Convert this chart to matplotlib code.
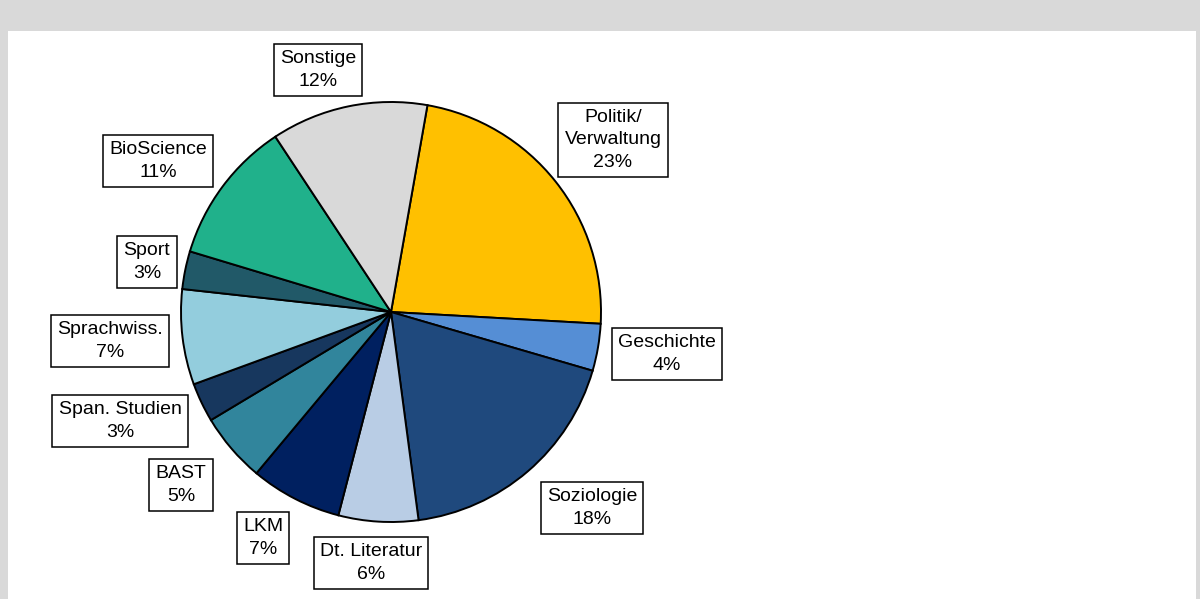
import matplotlib.pyplot as plt
from matplotlib.patches import Rectangle

plt.rcParams['font.family'] = ['Liberation Sans', 'DejaVu Sans']

# Anteile der Studiengaenge (in %), im Uhrzeigersinn ab oben
faecher = ["Politik/\nVerwaltung", "Geschichte", "Soziologie", "Dt. Literatur", "LKM",
           "BAST", "Span. Studien", "Sprachwiss.", "Sport", "BioScience", "Sonstige"]
anteile = [23.0, 3.6, 18.3, 6.1, 7.0, 5.3, 3.0, 7.3, 2.9, 11.0, 12.0]
prozent_text = ["23%", "4%", "18%", "6%", "7%", "5%", "3%", "7%", "3%", "11%", "12%"]
farben = ["#FFC000", "#558ED5", "#1F497D", "#B9CDE5", "#002060", "#31859C",
          "#17375E", "#93CDDD", "#215968", "#20B18B", "#D9D9D9"]

# Position der Beschriftungen (Pixel, von oben gemessen)
label_pos = [(613, 140), (667, 354), (592, 508), (371, 563), (263, 538), (181, 485),
             (120, 421), (110, 341), (147, 262), (158, 161), (318, 70)]

W, H = 1200, 599
fig = plt.figure(figsize=(12, 5.99), dpi=100, facecolor="#D9D9D9")
fig.patches.append(Rectangle((8 / W, 0), 1188 / W, 568 / H, transform=fig.transFigure,
                             facecolor="white", edgecolor="none", zorder=-10))

ax = fig.add_axes([0, 0, 1, 1])
ax.patch.set_alpha(0)
ax.axis("off")

ax.pie(anteile, colors=farben, startangle=80, counterclock=False,
       center=(391, H - 312), radius=210,
       wedgeprops=dict(edgecolor="black", linewidth=1.4))
ax.set_xlim(0, W)
ax.set_ylim(0, H)
ax.set_aspect("equal")

for name, pct, (x, y) in zip(faecher, prozent_text, label_pos):
    ax.text(x, H - y, name + "\n" + pct, ha="center", va="center", fontsize=14,
            linespacing=1.4,
            bbox=dict(boxstyle="square,pad=0.32", facecolor="white",
                      edgecolor="black", linewidth=1.1))

fig.savefig("out.png", dpi=100, facecolor=fig.get_facecolor())
